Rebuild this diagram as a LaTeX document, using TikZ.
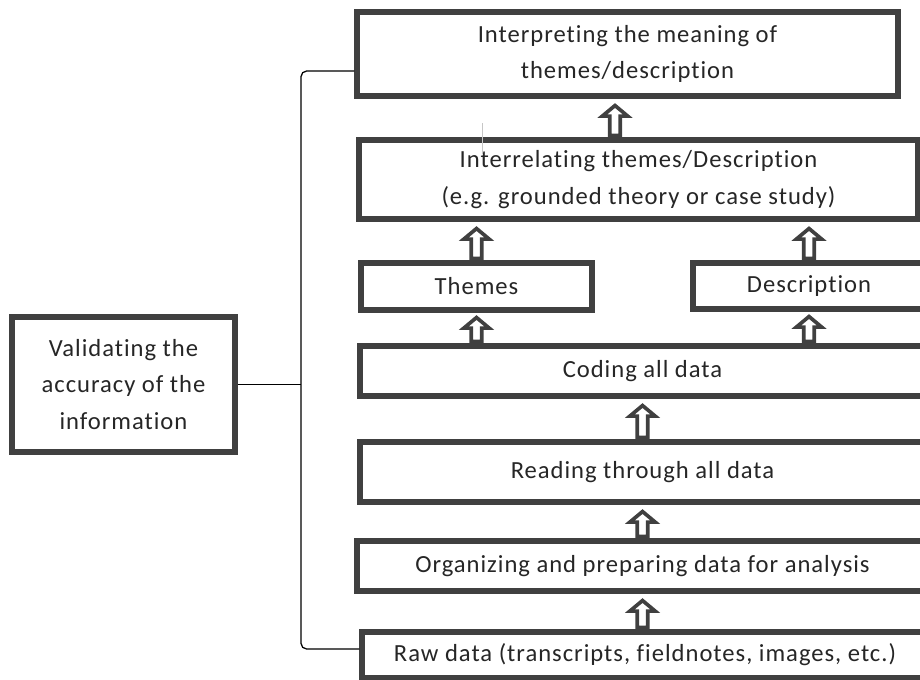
\documentclass[tikz,border=0pt]{standalone}
\usepackage{fontspec}
\setmainfont{Carlito}[Ligatures=NoCommon,LetterSpace=4]
\usetikzlibrary{calc}
\definecolor{boxgray}{HTML}{404040}
\definecolor{txtgray}{HTML}{262626}
% hollow block arrow from a base point up to the height of a tip point
\newcommand{\hollowup}[2]{%
  \draw[blockarrow] let \p1=(#1), \p2=(#2) in
    (\x1-\shaftw,\y1+1.5pt) -- (\x1-\shaftw,\y2-\headh) -- (\x1-\headw,\y2-\headh) -- (\x1,\y2)
    -- (\x1+\headw,\y2-\headh) -- (\x1+\shaftw,\y2-\headh) -- (\x1+\shaftw,\y1+1.5pt) -- cycle;}
\begin{document}
\begin{tikzpicture}[x=0.025cm,y=-0.025cm,line join=miter,font=\fontsize{17.5}{26}\selectfont]
    \tikzset{box/.style={draw=boxgray,line width=3.6pt,fill=white,inner sep=0pt,align=center,text=txtgray},
             blockarrow/.style={draw=boxgray,line width=2.6pt,fill=white},
             bracket/.style={line width=0.9pt,rounded corners=4pt},
             stray/.style={gray!45,line width=0.6pt}}
    \def \px{0.025cm}
    \def \shaftw{3.7pt}
    \def \headw{9pt}
    \def \headh{7.5pt}
    \useasboundingbox (0,0) rectangle (920,679);
    \clip (0,0) rectangle (920,679);
    % bracket on the left
    \coordinate (btop) at (301,71);
    \coordinate (bbot) at (301,649);
    \node[box,minimum width=223*\px,minimum height=135*\px] (valid) at (123.5,384.5)
        {Validating the\\accuracy of the\\information};
    \node[box,minimum width=541*\px,minimum height=84*\px] (interp) at (627.5,54)
        {Interpreting the meaning of\\themes/description};
    \node[box,minimum width=559*\px,minimum height=79*\px] (inter) at (638.5,179.5)
        {Interrelating themes/Description\\(e.g. grounded theory or case study)};
    \node[box,minimum width=231*\px,minimum height=47*\px] (themes) at (476.5,286.5) {Themes};
    \node[box,minimum width=232*\px,minimum height=46*\px] (desc) at (809,286) {Description};
    \node[box,minimum width=565*\px,minimum height=50*\px] (code) at (642.5,371) {Coding all data};
    \node[box,minimum width=565*\px,minimum height=60*\px] (read) at (642.5,472) {Reading through all data};
    \node[box,minimum width=571*\px,minimum height=50*\px] (org) at (642.5,566)
        {Organizing and preparing data for analysis};
    \node[box,minimum width=566*\px,minimum height=46*\px] (raw) at (645,655)
        {Raw data (transcripts, fieldnotes, images, etc.)};
    \draw[bracket] (interp.west |- btop) -- (btop) -- (bbot) -- (raw.west |- bbot);
    \draw[bracket] (valid.east) -- (valid.east -| btop);
    \draw[stray] (482,123) -- (482,154);
    % arrows between the steps
    \hollowup{$(inter.north)+(-23.5,0)$}{$(interp.south)+(0,7)$}
    \hollowup{themes.north}{$(inter.south)+(0,7)$}
    \hollowup{desc.north}{$(inter.south)+(0,7)$}
    \hollowup{code.north -| themes.south}{$(themes.south)+(0,5)$}
    \hollowup{code.north -| desc.south}{$(desc.south)+(0,5)$}
    \hollowup{read.north}{$(code.south)+(0,7)$}
    \hollowup{org.north}{$(read.south)+(0,7)$}
    \hollowup{raw.north -| org.north}{$(org.south)+(0,7)$}
\end{tikzpicture}
\end{document}
